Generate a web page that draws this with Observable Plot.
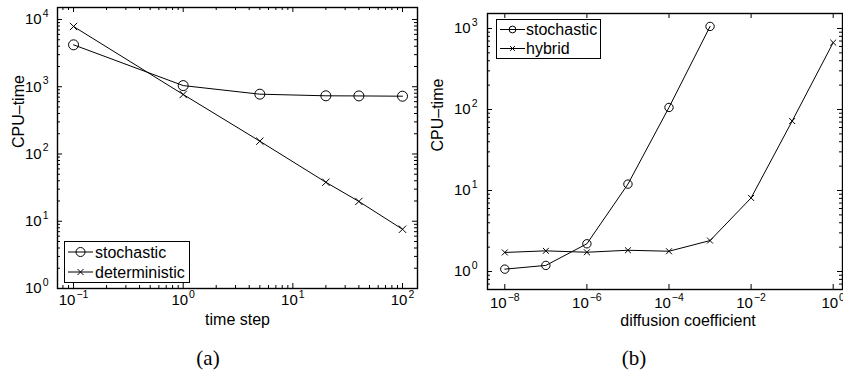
<!DOCTYPE html>
<html><head><meta charset="utf-8">
<script src="https://cdn.jsdelivr.net/npm/d3@7"></script>
<script src="https://cdn.jsdelivr.net/npm/@observablehq/plot@0.6"></script>
<style>
html,body{margin:0;padding:0;background:#fff;}
#page{position:relative;width:843px;height:377px;overflow:hidden;background:#fff;}
.panel{position:absolute;top:0;}
.caption{position:absolute;width:100px;text-align:center;font-family:"Liberation Serif","DejaVu Serif",serif;font-size:21px;line-height:21px;color:#000;}
.legend{position:absolute;}
</style></head><body><div id="page"></div>
<script>
// ---------- data ----------
const timeStep = [0.1, 1, 5, 20, 40, 100];
const stochasticA = [4200, 1040, 775, 733, 730, 723];
const deterministicA = [7870, 767, 155, 38, 19.7, 7.6];
const diffusionCoef = [1e-8, 1e-7, 1e-6, 1e-5, 1e-4, 1e-3, 1e-2, 1e-1, 1];
const stochasticB = [1.07, 1.19, 2.2, 12, 106, 1060];
const hybridB = [1.72, 1.8, 1.73, 1.83, 1.78, 2.41, 8.1, 72, 670];
const xTicksA = [0.1, 1, 10, 100];
const yTicksA = [1, 10, 100, 1000, 10000];
const xTicksB = [1e-8, 1e-6, 1e-4, 1e-2, 1];
const yTicksB = [1, 10, 100, 1000];
const namesA = ["stochastic", "deterministic"];
const namesB = ["stochastic", "hybrid"];
const captions = ["(a)", "(b)"];
const xLabels = ["time step", "diffusion coefficient"];
const yLabel = "CPU\u2013time";

const NS = "http://www.w3.org/2000/svg";
const FONT = "Liberation Sans, Arial, Helvetica, sans-serif";

function minors(lo, hi) {
  const out = [];
  for (let e = Math.floor(Math.log10(lo)); e <= Math.ceil(Math.log10(hi)); e++)
    for (let m = 2; m <= 9; m++) { const v = m * Math.pow(10, e); if (v >= lo && v <= hi) out.push(v); }
  return out;
}
const fmt = d => "10^" + Math.round(Math.log10(d));

function supers(svg) {
  svg.querySelectorAll('g[aria-label$="tick label"] text').forEach(t => {
    const s = t.textContent; const i = s.indexOf("^"); if (i < 0) return;
    const base = s.slice(0, i), exp = s.slice(i + 1).replace("-", "\u2212");
    while (t.firstChild) t.removeChild(t.firstChild);
    const a = document.createElementNS(NS, "tspan"); a.textContent = base;
    const b = document.createElementNS(NS, "tspan"); b.textContent = exp;
    b.setAttribute("dy", "-7.5"); b.setAttribute("dx", "1"); b.setAttribute("font-size", "10.5");
    t.append(a, b);
  });
}

function panel(o) {
  const pw = o.width - o.ml - o.mr, ph = o.height - o.mt - o.mb;
  const MAJ = 5, MIN = 3;
  const rows = [];
  o.series.forEach(s => s.y.forEach((v, i) => rows.push({x: o.x[i], y: v, series: s.name, symbol: s.symbol})));
  const xMinor = o.xMinor ? minors(o.xDomain[0], o.xDomain[1]) : [];
  const yMinor = minors(o.yDomain[0], o.yDomain[1]);
  const svg = Plot.plot({
    width: o.width, height: o.height,
    marginTop: o.mt, marginLeft: o.ml, marginRight: o.mr, marginBottom: o.mb,
    x: {type: "log", domain: o.xDomain},
    y: {type: "log", domain: o.yDomain},
    style: {fontFamily: FONT, fontSize: "15px", color: "black", background: "white"},
    marks: [
      Plot.ruleY(o.yTicks, {insetRight: pw - MAJ, stroke: "black"}),
      Plot.ruleY(o.yTicks, {insetLeft: pw - MAJ, stroke: "black"}),
      Plot.ruleY(yMinor, {insetRight: pw - MIN, stroke: "black"}),
      Plot.ruleY(yMinor, {insetLeft: pw - MIN, stroke: "black"}),
      Plot.ruleX(o.xTicks, {insetTop: ph - MAJ, stroke: "black"}),
      Plot.ruleX(o.xTicks, {insetBottom: ph - MAJ, stroke: "black"}),
      Plot.ruleX(xMinor, {insetTop: ph - MIN, stroke: "black"}),
      Plot.ruleX(xMinor, {insetBottom: ph - MIN, stroke: "black"}),
      Plot.frame({stroke: "black", strokeWidth: 1.4}),
      Plot.axisX(o.xTicks, {tickSize: 0, tickPadding: o.padX, tickFormat: fmt, label: null}),
      Plot.axisY(o.yTicks, {tickSize: 0, tickPadding: o.padY, tickFormat: fmt, label: null}),
      Plot.line(rows, {x: "x", y: "y", z: "series", stroke: "black", strokeWidth: 1}),
      Plot.dot(rows.filter(d => d.symbol === "circle"), {x: "x", y: "y", symbol: "circle", r: o.circleR, stroke: "black", fill: "none", strokeWidth: 1}),
      Plot.dot(rows.filter(d => d.symbol === "times"), {x: "x", y: "y", symbol: "times", r: o.crossR, stroke: "black", strokeWidth: 1}),
      Plot.text([o.xLabel], {frameAnchor: "bottom", dx: o.xLabDx, dy: o.xLabDy, fontSize: 16}),
      Plot.text([yLabel], {frameAnchor: "left", rotate: -90, dx: o.yLabDx, fontSize: 16})
    ]
  });
  supers(svg);
  return svg;
}

function legend(items, w, h, rowY, textX, fontSize) {
  let s = `<svg xmlns="${NS}" width="${w}" height="${h}" style="display:block">`;
  s += `<rect x="0.5" y="0.5" width="${w - 1}" height="${h - 1}" fill="white" stroke="black" stroke-width="1"/>`;
  items.forEach((it, i) => {
    const y = rowY[i];
    s += `<line x1="4" x2="29" y1="${y}" y2="${y}" stroke="black" stroke-width="1"/>`;
    const cx = 16.5, r = it.r;
    if (it.symbol === "circle") s += `<circle cx="${cx}" cy="${y}" r="${r}" fill="none" stroke="black"/>`;
    else s += `<path d="M${cx - r},${y - r}L${cx + r},${y + r}M${cx - r},${y + r}L${cx + r},${y - r}" stroke="black" fill="none"/>`;
    s += `<text x="${textX}" y="${y}" dy="0.36em" font-family="${FONT}" font-size="${fontSize}">${it.name}</text>`;
  });
  return s + "</svg>";
}

const page = document.getElementById("page");

// Panel (a)
const svgA = panel({
  width: 421, height: 340, mt: 7, ml: 57, mr: 4, mb: 52,
  xDomain: [0.0714, 137], yDomain: [1, 15070],
  xTicks: xTicksA, yTicks: yTicksA, xMinor: true,
  x: timeStep,
  series: [{name: namesA[0], y: stochasticA, symbol: "circle"}, {name: namesA[1], y: deterministicA, symbol: "times"}],
  circleR: 5, crossR: 3.4, padX: 6, padY: 9,
  xLabel: xLabels[0], xLabDx: 0, xLabDy: 36, yLabDx: -39
});
const divA = document.createElement("div"); divA.className = "panel"; divA.style.left = "0px"; divA.style.width = "421px";
divA.append(svgA); page.append(divA);

// Panel (b)
const svgB = panel({
  width: 422, height: 340, mt: 13, ml: 66, mr: 1, mb: 51,
  xDomain: [3.79e-9, 1.685], yDomain: [0.6, 1531],
  xTicks: xTicksB, yTicks: yTicksB, xMinor: false,
  x: diffusionCoef,
  series: [{name: namesB[0], y: stochasticB, symbol: "circle"}, {name: namesB[1], y: hybridB, symbol: "times"}],
  circleR: 4.2, crossR: 2.8, padX: 8, padY: 10,
  xLabel: xLabels[1], xLabDx: 23, xLabDy: 36, yLabDx: -50
});
const divB = document.createElement("div"); divB.className = "panel"; divB.style.left = "421px"; divB.style.width = "422px";
divB.append(svgB); page.append(divB);

// Legends
const legA = document.createElement("div"); legA.className = "legend";
legA.style.left = "64px"; legA.style.top = "241px";
legA.innerHTML = legend([{name: namesA[0], symbol: "circle", r: 4.5}, {name: namesA[1], symbol: "times", r: 3}], 126, 42, [11, 31], 31, 16);
page.append(legA);
const legB = document.createElement("div"); legB.className = "legend";
legB.style.left = "496px"; legB.style.top = "19px";
legB.innerHTML = legend([{name: namesB[0], symbol: "circle", r: 3.4}, {name: namesB[1], symbol: "times", r: 2.4}], 105, 40, [10.5, 29.5], 30, 16);
page.append(legB);

// Captions
[[208, captions[0]], [634, captions[1]]].forEach(([cx, t]) => {
  const c = document.createElement("div"); c.className = "caption";
  c.style.left = (cx - 50) + "px"; c.style.top = "348px"; c.textContent = t;
  page.append(c);
});
</script></body></html>
